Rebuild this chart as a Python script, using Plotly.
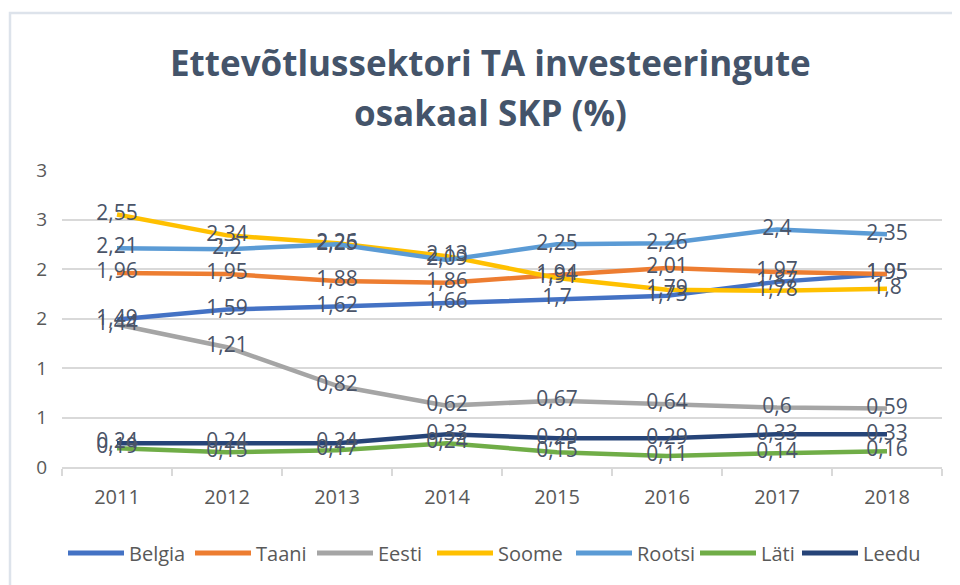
import plotly.graph_objects as go

years = ["2011", "2012", "2013", "2014", "2015", "2016", "2017", "2018"]
belgia = [1.49, 1.59, 1.62, 1.66, 1.7, 1.73, 1.87, 1.95]
taani = [1.96, 1.95, 1.88, 1.86, 1.94, 2.01, 1.97, 1.95]
eesti = [1.44, 1.21, 0.82, 0.62, 0.67, 0.64, 0.6, 0.59]
soome = [2.55, 2.34, 2.26, 2.13, 1.91, 1.79, 1.78, 1.8]
rootsi = [2.21, 2.2, 2.25, 2.09, 2.25, 2.26, 2.4, 2.35]
lati = [0.19, 0.15, 0.17, 0.24, 0.15, 0.11, 0.14, 0.16]
leedu = [0.24, 0.24, 0.24, 0.33, 0.29, 0.29, 0.33, 0.33]

y_tickvals = [0, 0.5, 1, 1.5, 2, 2.5, 3]
y_ticktext = ["0", "1", "1", "2", "2", "3", "3"]

series = [
    ("Belgia", belgia, "#4472C4"),
    ("Taani", taani, "#ED7D31"),
    ("Eesti", eesti, "#A5A5A5"),
    ("Soome", soome, "#FFC000"),
    ("Rootsi", rootsi, "#5B9BD5"),
    ("Läti", lati, "#70AD47"),
    ("Leedu", leedu, "#264478"),
]

label_color = "#4A5468"
text_color = "#595959"
fig = go.Figure()
for name, vals, col in series:
    fig.add_trace(go.Scatter(
        x=years, y=vals, name=name, mode="lines", showlegend=False,
        line=dict(color=col, width=4.5),
    ))
for name, vals, col in series:
    fig.add_trace(go.Scatter(
        x=years, y=vals, mode="text", showlegend=False, hoverinfo="skip",
        text=[str(v).replace(".", ",") for v in vals],
        textposition="middle center",
        textfont=dict(family="Open Sans", size=21, color=label_color),
    ))

# The page has an 8px body margin; plot area in page pixels: x 62..942, y 170..467
OFF = 8
PL, PR, PT, PB = 62, 942, 170, 467

def px_x(p):
    return (p - PL) / float(PR - PL)

def px_y(p):
    return (PB - p) / float(PB - PT)

shapes = [dict(
    type="rect", xref="paper", yref="paper",
    x0=px_x(10), x1=px_x(1200), y0=px_y(800), y1=px_y(13),
    line=dict(color="#DDE3EB", width=2.5), fillcolor="rgba(0,0,0,0)", layer="below",
)]
annotations = [
    dict(text="<b>Ettevõtlussektori TA investeeringute</b>", xref="paper", yref="paper",
         x=px_x(490), y=px_y(62), xanchor="center", yanchor="middle", showarrow=False,
         font=dict(family="Open Sans", size=35, color="#44546A")),
    dict(text="<b>osakaal SKP (%)</b>", xref="paper", yref="paper",
         x=px_x(490), y=px_y(112), xanchor="center", yanchor="middle", showarrow=False,
         font=dict(family="Open Sans", size=35, color="#44546A")),
]

# custom legend (long line samples as in the reference)
legend_starts = [68, 195, 317, 437, 576, 700, 802]
legend_y = 553
for (name, vals, col), x0 in zip(series, legend_starts):
    shapes.append(dict(
        type="line", xref="paper", yref="paper",
        x0=px_x(x0), x1=px_x(x0 + 56), y0=px_y(legend_y), y1=px_y(legend_y),
        line=dict(color=col, width=5),
    ))
    annotations.append(dict(
        text=name, xref="paper", yref="paper", x=px_x(x0 + 59), y=px_y(legend_y),
        xanchor="left", yanchor="middle", showarrow=False,
        font=dict(family="Open Sans", size=20, color=text_color),
    ))

fig.update_layout(
    width=960 - OFF, height=585 - OFF,
    margin=dict(l=PL - OFF, r=960 - PR, t=PT - OFF, b=585 - PB, pad=0),
    paper_bgcolor="white", plot_bgcolor="white",
    showlegend=False,
    xaxis=dict(
        type="category", range=[-0.5, 7.5],
        showgrid=False, showline=True, linecolor="#D9D9D9", linewidth=1.5,
        ticks="outside", tickson="boundaries", ticklen=7, tickcolor="#D9D9D9", tickwidth=1.5,
        tickfont=dict(family="Open Sans", size=20, color=text_color),
        ticklabelstandoff=11,
    ),
    yaxis=dict(
        range=[0, 3], tickmode="array", tickvals=y_tickvals, ticktext=y_ticktext,
        showgrid=True, gridcolor="#D9D9D9", gridwidth=1.5, zeroline=False,
        showline=False,
        tickfont=dict(family="Open Sans", size=19, color=text_color),
        ticklabelstandoff=14,
    ),
    shapes=shapes,
    annotations=annotations,
)

fig.write_html("out.html")
